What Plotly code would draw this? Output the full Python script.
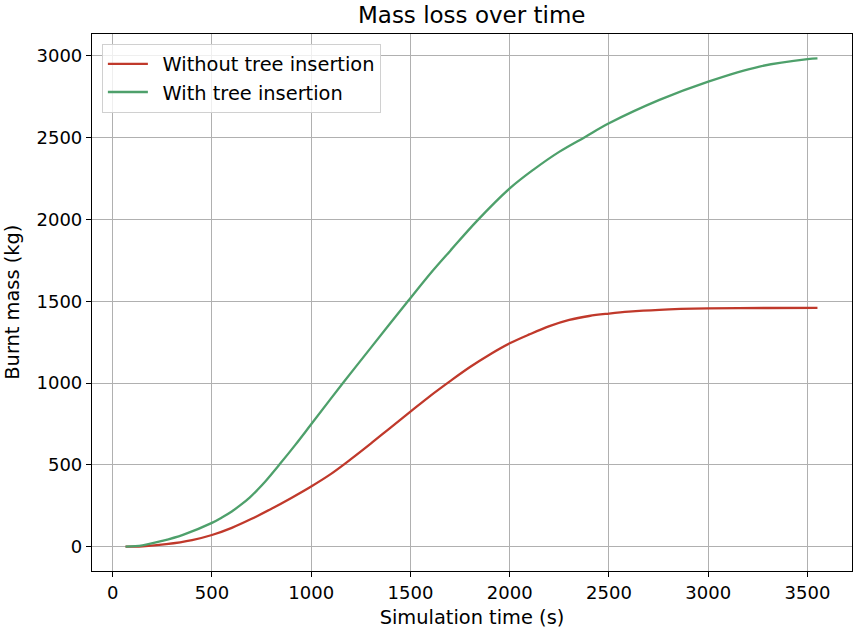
import plotly.graph_objects as go

# Data
time_without = [65, 150, 270, 400, 500, 600, 700, 800, 900, 1000, 1100, 1200, 1300,
                1400, 1500, 1600, 1700, 1800, 1900, 2000, 2100, 2200, 2300, 2400,
                2500, 2600, 2754, 3000, 3300, 3550]
mass_without = [0, 2, 15, 40, 71, 115, 170, 232, 298, 368, 445, 535, 630,
                728, 825, 922, 1012, 1098, 1175, 1243, 1298, 1348, 1386, 1410,
                1425, 1437, 1448, 1456, 1459, 1460]

time_with = [65, 150, 250, 354, 500, 550, 600, 645, 690, 730, 770, 841, 920, 1000, 1160,
             1300, 1487, 1613, 1700, 1834, 2000, 2120, 2251, 2380, 2500, 2754, 3000,
             3258, 3500, 3550]
mass_with = [0, 8, 35, 72, 145, 178, 215, 255, 300, 348, 400, 503, 622, 748, 1000,
             1215, 1500, 1688, 1808, 1990, 2190, 2305, 2415, 2505, 2588, 2731, 2843,
             2935, 2980, 2985]

x_ticks = [0, 500, 1000, 1500, 2000, 2500, 3000, 3500]
y_ticks = [0, 500, 1000, 1500, 2000, 2500, 3000]

FONT = "DejaVu Sans"
FS = 18
FS_LABEL = 19.4

fig = go.Figure()
fig.add_trace(go.Scatter(x=time_without, y=mass_without, mode="lines",
                         name="\u2002Without tree insertion",
                         line=dict(color="#c0392b", width=2.3, shape="spline", smoothing=1.0)))
fig.add_trace(go.Scatter(x=time_with, y=mass_with, mode="lines",
                         name="\u2002With tree insertion",
                         line=dict(color="#4ea06b", width=2.3, shape="spline", smoothing=1.0)))

axis_common = dict(showline=True, linecolor="black", linewidth=1.2, mirror=True,
                   ticks="outside", ticklen=5, tickwidth=1.2, tickcolor="black",
                   showgrid=True, gridcolor="#b0b0b0", gridwidth=1, zeroline=False,
                   tickfont=dict(family=FONT, size=FS, color="black"))

fig.update_layout(
    width=853, height=630,
    margin=dict(l=92, r=1, t=34, b=59),
    paper_bgcolor="white", plot_bgcolor="white",
    font=dict(family=FONT, size=FS, color="black"),
    title=dict(text="Mass loss over time", x=0.553, xanchor="center", y=0.977, yanchor="middle",
               font=dict(family=FONT, size=23, color="black")),
    xaxis=dict(range=[-104, 3724], tickvals=x_ticks,
               title=dict(text="Simulation time (s)", standoff=8,
                          font=dict(family=FONT, size=FS_LABEL)),
               **axis_common),
    yaxis=dict(range=[-149, 3134], tickvals=y_ticks, **axis_common),
    legend=dict(x=0.013, y=0.982, xanchor="left", yanchor="top",
                bgcolor="rgba(255,255,255,0.8)", bordercolor="#d0d0d0", borderwidth=1,
                font=dict(family=FONT, size=FS_LABEL, color="black"),
                itemwidth=40, tracegroupgap=0),
    showlegend=True,
    annotations=[dict(text="Burnt mass (kg)", textangle=-90, showarrow=False,
                      xref="paper", yref="paper", x=-0.105, y=0.5,
                      xanchor="center", yanchor="middle",
                      font=dict(family=FONT, size=FS_LABEL, color="black"))],
)

fig.write_html("out.html")
